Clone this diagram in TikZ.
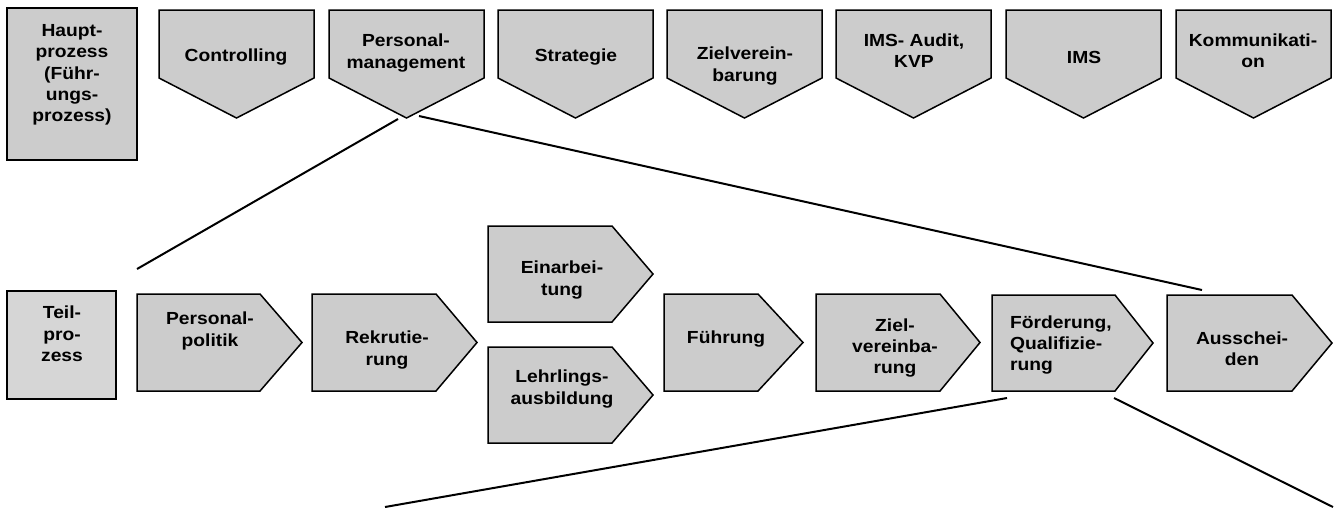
\documentclass[tikz,border=0pt]{standalone}
\usepackage{fontspec}
\setmainfont[FakeStretch=1.1]{Liberation Sans}
\definecolor{boxgray}{HTML}{CCCCCC}
\definecolor{lightgray}{HTML}{D6D6D6}
\begin{document}
\begin{tikzpicture}[x=1pt,y=-1pt,
  proc/.style={fill=boxgray,draw=black,line width=1.5pt,line join=miter},
  lab/.style={font=\fontsize{17.5}{21.3}\selectfont\bfseries,align=center,inner sep=0pt},
  link/.style={line width=2pt}]
\useasboundingbox (0,0) rectangle (1337,507);
% top row
\path[proc] (7,8) rectangle (137,160);
\node[lab] (haupt) at (72,75) {Haupt-\\prozess\\(Führ-\\ungs-\\prozess)};
\foreach \x/\nm in {159/ctrl,329/pm,498/strat,667/ziel,836/audit,1006/ims,1176/komm}{
  \path[proc] (\x,10) -- (\x+155,10) -- (\x+155,78) -- (\x+77.5,118) -- (\x,78) -- cycle;
  \coordinate (\nm-tip) at (\x+77.5,118);
}
\node[lab] (ctrlT) at (236,57) {Controlling};
\node[lab] (pmT) at (406,53) {Personal-\\management};
\node[lab] (stratT) at (576,57) {Strategie};
\node[lab] (zielT) at (745,66) {Zielverein-\\barung};
\node[lab] (auditT) at (914,51) {IMS- Audit,\\KVP};
\node[lab] (imsT) at (1084,57) {IMS};
\node[lab] (kommT) at (1253,51) {Kommunikati-\\on};
% bottom row
\path[fill=lightgray,draw=black,line width=1.5pt] (7,291) rectangle (116,399);
\node[lab] (teil) at (62,334) {Teil-\\pro-\\zess};
\foreach \a/\b/\c/\t/\bt/\nm in {137/260/302/294/391/pp,312/436/477/294/391/rek,488/612/653/226/322/ein,488/612/653/347/443/lehr,664/758/803/294/391/fue,816/940/980/294/391/zv,992/1115/1153/295/391/foe,1167/1292/1332/295/391/aus}{
  \path[proc] (\a,\t) -- (\b,\t) -- (\c,{(\t+\bt)/2}) -- (\b,\bt) -- (\a,\bt) -- cycle;
}
\node[lab] (ppT) at (210,331) {Personal-\\politik};
\node[lab] (rekT) at (387,350) {Rekrutie-\\rung};
\node[lab] (einT) at (562,280) {Einarbei-\\tung};
\node[lab] (lehrT) at (562,389) {Lehrlings-\\ausbildung};
\node[lab] (fueT) at (726,339) {Führung};
\node[lab] (zvT) at (895,348) {Ziel-\\vereinba-\\rung};
\node[lab,align=left,anchor=west] (foeT) at (1010,345) {Förderung,\\Qualifizie-\\rung};
\node[lab] (ausT) at (1242,349) {Ausschei-\\den};
% connectors
\coordinate (l1a) at (398,119);
\coordinate (l1b) at (137,269);
\coordinate (l2a) at (419,116);
\coordinate (l2b) at (1202,290);
\coordinate (l3a) at (1007,398);
\coordinate (l3b) at (385,507);
\coordinate (l4a) at (1114,398);
\coordinate (l4b) at (1333,507);
\draw[link] (l1a) -- (l1b);
\draw[link] (l2a) -- (l2b);
\draw[link] (l3a) -- (l3b);
\draw[link] (l4a) -- (l4b);
\end{tikzpicture}
\end{document}
